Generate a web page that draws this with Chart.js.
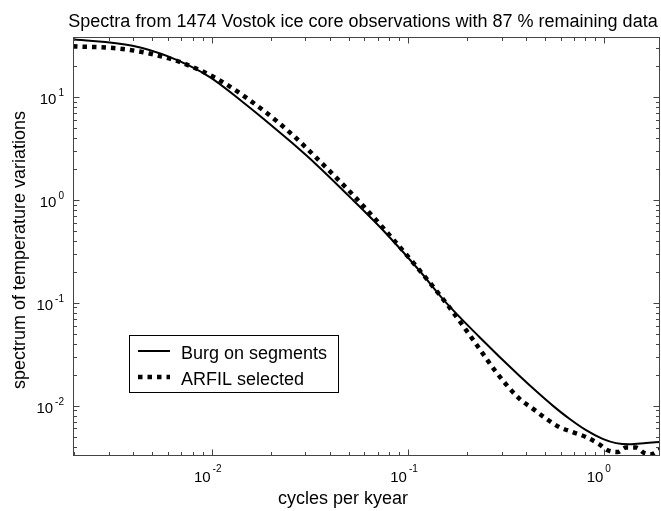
<!DOCTYPE html>
<html>
<head>
<meta charset="utf-8">
<script src="https://cdn.jsdelivr.net/npm/chart.js@4/dist/chart.umd.min.js"></script>
<style>
    body { margin: 0; background: #fff; }
    canvas { display: block; }
</style>
</head>
<body>
<canvas id="spectra" width="661" height="511"></canvas>
<script>
// Data (frequency in cycles per kyear)
const burgFreq = [0.00197, 0.00396, 0.0061, 0.0098, 0.0144, 0.0197, 0.0255, 0.0341, 0.0524, 0.0774, 0.114,
                  0.153, 0.231, 0.368, 0.467, 0.546, 0.664, 0.807, 0.98, 1.147, 1.34, 1.63, 1.92];
const burgPower = [36.4, 31.5, 24.5, 15.6, 8.94, 5.50, 3.62, 2.21, 0.998, 0.471, 0.207,
                   0.105, 0.0465, 0.0196, 0.01294, 0.0100, 0.00745, 0.00577, 0.00475, 0.00432, 0.00421, 0.00433, 0.00444];
const arfilFreq = [0.00197, 0.0034, 0.00483, 0.00688, 0.011, 0.0183, 0.0255, 0.0341, 0.0524, 0.0774, 0.114,
                   0.156, 0.190, 0.231, 0.281, 0.369, 0.432, 0.505, 0.590, 0.690, 0.807, 0.943,
                   1.039, 1.169, 1.289, 1.450, 1.598, 1.728, 1.92];
const arfilPower = [31.1, 29.5, 26.4, 21.9, 14.5, 7.43, 4.38, 2.57, 1.12, 0.495, 0.209,
                    0.100, 0.0603, 0.0358, 0.0212, 0.0117, 0.00935, 0.00748, 0.00619, 0.00553, 0.00495, 0.00421,
                    0.00368, 0.00354, 0.00391, 0.00391, 0.00346, 0.00336, 0.00372];
const seriesNames = ['Burg on segments', 'ARFIL selected'];
const xRange = [0.00197, 1.92];
const yRange = [0.00324, 37.4];
const xDecades = [-2, -1, 0];
const yDecades = [-2, -1, 0, 1];

const FONT = '"Liberation Sans", Arial, Helvetica, sans-serif';
const AXIS_COLOR = '#444';

function toPoints(freqs, values) {
    return freqs.map((f, i) => ({ x: f, y: values[i] }));
}

// Matlab-like frame: box, inward ticks, 10^n labels, title, axis titles, legend
const matlabFrame = {
    id: 'matlabFrame',
    afterDraw(chart) {
        const ctx = chart.ctx;
        const area = chart.chartArea;
        const xs = chart.scales.x;
        const ys = chart.scales.y;
        const L = area.left + 0.5, R = area.right - 0.5, T = area.top - 0.5, B = area.bottom - 0.5;

        ctx.save();
        ctx.strokeStyle = AXIS_COLOR;
        ctx.lineWidth = 1;
        ctx.strokeRect(L, T, R - L, B - T);

        // x ticks (bottom and top)
        ctx.beginPath();
        for (let n = -3; n <= 1; n++) {
            for (let k = 1; k <= 9; k++) {
                const v = k * Math.pow(10, n);
                if (v < xRange[0] || v > xRange[1]) continue;
                const px = Math.round(xs.getPixelForValue(v)) + 0.5;
                const len = k === 1 ? 6 : 3.5;
                ctx.moveTo(px, B); ctx.lineTo(px, B - len);
                ctx.moveTo(px, T); ctx.lineTo(px, T + len);
            }
        }
        // y ticks (left and right)
        for (let n = -3; n <= 2; n++) {
            for (let k = 1; k <= 9; k++) {
                const v = k * Math.pow(10, n);
                if (v < yRange[0] || v > yRange[1]) continue;
                const py = Math.round(ys.getPixelForValue(v)) + 0.5;
                const len = k === 1 ? 6 : 3.5;
                ctx.moveTo(L, py); ctx.lineTo(L + len, py);
                ctx.moveTo(R, py); ctx.lineTo(R - len, py);
            }
        }
        ctx.stroke();

        ctx.fillStyle = '#000';
        // x tick labels
        xDecades.forEach(n => {
            const px = xs.getPixelForValue(Math.pow(10, n));
            ctx.font = '15px ' + FONT;
            ctx.textAlign = 'right';
            ctx.textBaseline = 'alphabetic';
            ctx.fillText('10', px - 1, 482);
            ctx.font = '10px ' + FONT;
            ctx.textAlign = 'left';
            ctx.fillText(String(n), px + 1, 472);
        });
        // y tick labels
        yDecades.forEach(n => {
            const py = ys.getPixelForValue(Math.pow(10, n));
            ctx.font = '10px ' + FONT;
            ctx.textAlign = 'right';
            ctx.textBaseline = 'alphabetic';
            const exp = String(n);
            const ew = ctx.measureText(exp).width;
            ctx.fillText(exp, 64, py - 1);
            ctx.font = '15px ' + FONT;
            ctx.fillText('10', 64 - ew - 2, py + 7);
        });

        // title and axis titles
        ctx.font = '18px ' + FONT;
        ctx.textAlign = 'center';
        ctx.textBaseline = 'alphabetic';
        ctx.fillText('Spectra from 1474 Vostok ice core observations with 87 % remaining data', 363, 27);
        ctx.fillText('cycles per kyear', 343, 504);
        ctx.save();
        ctx.translate(25, 250);
        ctx.rotate(-Math.PI / 2);
        ctx.fillText('spectrum of temperature variations', 0, 0);
        ctx.restore();

        // legend box
        ctx.fillStyle = '#fff';
        ctx.fillRect(129.5, 335.5, 209, 57);
        ctx.strokeStyle = '#000';
        ctx.lineWidth = 1;
        ctx.strokeRect(129.5, 335.5, 209, 57);
        chart.data.datasets.forEach((ds, i) => {
            const y = i === 0 ? 351 : 377;
            ctx.beginPath();
            ctx.strokeStyle = ds.borderColor;
            ctx.lineWidth = ds.borderWidth;
            ctx.setLineDash(ds.borderDash || []);
            ctx.moveTo(138, y);
            ctx.lineTo(170, y);
            ctx.stroke();
            ctx.setLineDash([]);
            ctx.fillStyle = '#000';
            ctx.font = '18px ' + FONT;
            ctx.textAlign = 'left';
            ctx.fillText(ds.label, 181, y + 7.5);
        });
        ctx.restore();
    }
};

function renderChart() {
    const ctx = document.getElementById('spectra');
    new Chart(ctx, {
        type: 'line',
        data: {
            datasets: [{
                label: seriesNames[0],
                data: toPoints(burgFreq, burgPower),
                borderColor: '#000',
                borderWidth: 2,
                pointRadius: 0,
                cubicInterpolationMode: 'monotone',
                fill: false,
                clip: 0
            }, {
                label: seriesNames[1],
                data: toPoints(arfilFreq, arfilPower),
                borderColor: '#000',
                borderWidth: 4.5,
                borderDash: [4.5, 5],
                pointRadius: 0,
                cubicInterpolationMode: 'monotone',
                fill: false,
                clip: 0
            }]
        },
        options: {
            responsive: false,
            animation: false,
            devicePixelRatio: 1,
            layout: { padding: { left: 73, top: 38, right: 1, bottom: 55 } },
            plugins: {
                legend: { display: false },
                title: { display: false },
                tooltip: { enabled: false }
            },
            scales: {
                x: { type: 'logarithmic', min: xRange[0], max: xRange[1], display: false },
                y: { type: 'logarithmic', min: yRange[0], max: yRange[1], display: false }
            }
        },
        plugins: [matlabFrame]
    });
}

renderChart();
</script>
</body>
</html>
